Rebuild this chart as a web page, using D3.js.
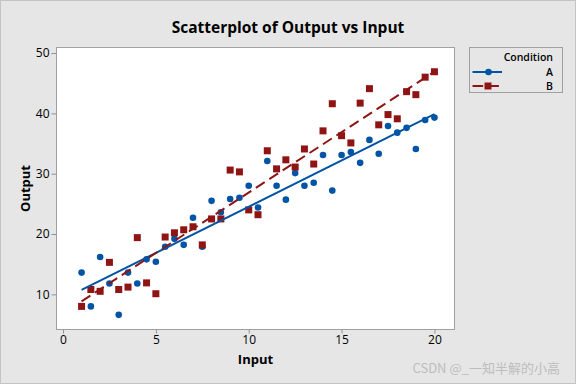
<!DOCTYPE html>
<html>
<head>
<meta charset="utf-8">
<script src="https://cdn.jsdelivr.net/npm/d3@7"></script>
<style>
  html, body { margin: 0; padding: 0; background: #e6e6e6; }
  svg { display: block; font-family: "Open Sans", "Noto Sans", sans-serif; }
</style>
</head>
<body>
<svg id="chart"></svg>
<script>
// Input values shared by both conditions
const inputs = [1, 1.5, 2, 2.5, 3, 3.5, 4, 4.5, 5, 5.5, 6, 6.5, 7, 7.5, 8, 8.5, 9, 9.5, 10, 10.5,
                11, 11.5, 12, 12.5, 13, 13.5, 14, 14.5, 15, 15.5, 16, 16.5, 17, 17.5, 18, 18.5, 19, 19.5, 20]

// Output for condition A (blue circles)
const outputA = [13.6, 8.0, 16.2, 11.8, 6.6, 13.6, 11.8, 15.8, 15.4, 17.9, 19.2, 18.2, 22.7, 17.9, 25.5, 23.6, 25.8, 26.0, 28.0, 24.4,
                 32.1, 28.0, 25.7, 30.1, 28.0, 28.5, 33.1, 27.2, 33.1, 33.6, 31.8, 35.6, 33.3, 37.9, 36.8, 37.6, 34.1, 38.9, 39.3]

// Output for condition B (red squares)
const outputB = [8.0, 10.8, 10.5, 15.3, 10.8, 11.2, 19.4, 11.9, 10.1, 19.5, 20.2, 20.7, 21.2, 18.2, 22.5, 22.5, 30.6, 30.3, 24.0, 23.2,
                 33.8, 30.8, 32.3, 31.1, 34.1, 31.6, 37.1, 41.6, 36.3, 35.1, 41.7, 44.1, 38.1, 39.8, 39.1, 43.6, 43.1, 46.0, 46.9]

const conditions = ["A", "B"]
const xTicks = [0, 5, 10, 15, 20]
const yTicks = [10, 20, 30, 40, 50]

const W = 576, H = 384
const plot = {left: 56.5, top: 47.5, right: 454.5, bottom: 329.5}
const blue = "#0054a6", red = "#8f1515"

const svg = d3.select("#chart").attr("width", W).attr("height", H)

// background + outer border
svg.append("rect")
    .attr("x", 0.5).attr("y", 0.5)
    .attr("width", W - 1).attr("height", H - 1)
    .attr("fill", "#e6e6e6")
    .attr("stroke", "#c4c4c4")

// scales (padded like minitab)
const xScale = d3.scaleLinear().domain([-0.35, 21.08]).range([plot.left, plot.right])
const yScale = d3.scaleLinear().domain([4.17, 50.92]).range([plot.bottom, plot.top])

// data region
svg.append("rect")
    .attr("x", plot.left).attr("y", plot.top)
    .attr("width", plot.right - plot.left).attr("height", plot.bottom - plot.top)
    .attr("fill", "white")
    .attr("stroke", "#a0a0a0")

// axes
const xAxis = d3.axisBottom(xScale).tickValues(xTicks).tickSize(4).tickPadding(2)
const gx = svg.append("g")
    .attr("transform", "translate(0," + plot.bottom + ")")
    .call(xAxis)
gx.select(".domain").remove()

const yAxis = d3.axisLeft(yScale).tickValues(yTicks).tickSize(5).tickPadding(2)
const gy = svg.append("g")
    .attr("transform", "translate(" + plot.left + ",0)")
    .call(yAxis)
gy.select(".domain").remove()

svg.selectAll(".tick line").attr("stroke", "#909090")
svg.selectAll(".tick text")
    .attr("fill", "#000")
    .attr("font-size", "12px")
    .attr("font-family", "'Open Sans', sans-serif")

// titles
svg.append("text")
    .attr("x", 288).attr("y", 33)
    .attr("text-anchor", "middle")
    .attr("font-size", "15.5px")
    .attr("font-weight", "bold")
    .text("Scatterplot of Output vs Input")

svg.append("text")
    .attr("x", (plot.left + plot.right) / 2).attr("y", 364)
    .attr("text-anchor", "middle")
    .attr("font-size", "13px")
    .attr("font-weight", "bold")
    .text("Input")

svg.append("text")
    .attr("transform", "translate(30," + (plot.top + plot.bottom) / 2 + ") rotate(-90)")
    .attr("text-anchor", "middle")
    .attr("font-size", "13px")
    .attr("font-weight", "bold")
    .text("Output")

// least squares fit for each condition
const fit = (xs, ys) => {
    const mx = d3.mean(xs), my = d3.mean(ys)
    const b = d3.sum(xs, (x, i) => (x - mx) * (ys[i] - my)) / d3.sum(xs, x => (x - mx) * (x - mx))
    return [[d3.min(xs), my + b * (d3.min(xs) - mx)], [d3.max(xs), my + b * (d3.max(xs) - mx)]]
}

const ptsA = inputs.map((x, i) => [x, outputA[i]])
const ptsB = inputs.map((x, i) => [x, outputB[i]])

// A points
svg.selectAll("circle.ptA")
    .data(ptsA)
    .enter()
    .append("circle")
    .attr("class", "ptA")
    .attr("cx", d => xScale(d[0]))
    .attr("cy", d => yScale(d[1]))
    .attr("r", 3.3)
    .attr("fill", blue)

// B points
const sq = 7
svg.selectAll("rect.ptB")
    .data(ptsB)
    .enter()
    .append("rect")
    .attr("class", "ptB")
    .attr("x", d => xScale(d[0]) - sq / 2)
    .attr("y", d => yScale(d[1]) - sq / 2)
    .attr("width", sq).attr("height", sq)
    .attr("fill", red)

const line = d3.line().x(d => xScale(d[0])).y(d => yScale(d[1]))

svg.append("path")
    .attr("d", line(fit(inputs, outputA)))
    .attr("fill", "none")
    .attr("stroke", blue)
    .attr("stroke-width", 2)

svg.append("path")
    .attr("d", line(fit(inputs, outputB)))
    .attr("fill", "none")
    .attr("stroke", red)
    .attr("stroke-width", 2)
    .attr("stroke-dasharray", "10.5,5.5")

// legend
const lg = svg.append("g")
lg.append("rect")
    .attr("x", 469.5).attr("y", 47.5)
    .attr("width", 93).attr("height", 45)
    .attr("fill", "#e6e6e6")
    .attr("stroke", "#a0a0a0")

lg.append("text")
    .attr("x", 553).attr("y", 61)
    .attr("text-anchor", "end")
    .attr("font-size", "10.5px")
    .attr("font-weight", 600)
    .text("Condition")

conditions.forEach((c, i) => {
    const yy = 72 + i * 14
    const col = i === 0 ? blue : red
    lg.append("line")
        .attr("x1", 472.5).attr("x2", i === 0 ? 502 : 499.5)
        .attr("y1", yy).attr("y2", yy)
        .attr("stroke", col)
        .attr("stroke-width", 2)
        .attr("stroke-dasharray", i === 0 ? null : "10.7,5")
    if (i === 0) {
        lg.append("circle").attr("cx", 488.5).attr("cy", yy).attr("r", 3.3).attr("fill", col)
    } else {
        lg.append("rect").attr("x", 488 - sq / 2).attr("y", yy - sq / 2)
            .attr("width", sq).attr("height", sq).attr("fill", col)
    }
    lg.append("text")
        .attr("x", 553).attr("y", yy + 4)
        .attr("text-anchor", "end")
        .attr("font-size", "10.5px")
        .attr("font-weight", 600)
        .text(c)
})

// watermark
svg.append("text")
    .attr("x", 560).attr("y", 373)
    .attr("text-anchor", "end")
    .attr("font-size", "13px")
    .attr("font-family", "'Noto Sans CJK SC', sans-serif")
    .attr("fill", "#bdbdbd")
    .text("CSDN @_一知半解的小高")
</script>
</body>
</html>
